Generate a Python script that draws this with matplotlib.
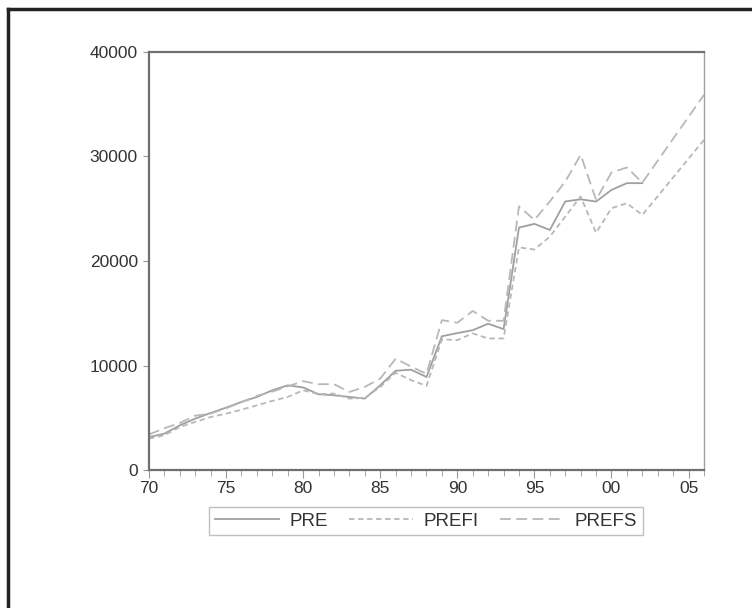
import matplotlib
matplotlib.use("Agg")
import matplotlib.pyplot as plt
from matplotlib.lines import Line2D

plt.rcParams['font.family'] = ['Liberation Sans', 'DejaVu Sans']

years = list(range(1970, 2007))

pre = [3150, 3480, 4275, 4915, 5460, 5970, 6510, 6990, 7630, 8100,
       7900, 7250, 7150, 6990, 6835, 8110, 9500, 9600, 8900, 12800,
       13100, 13380, 14000, 13480, 23200, 23550, 22970, 25700, 25900, 25690,
       26800, 27450, 27450, None, None, None, None]
prefi = [3000, 3320, 4120, 4600, 5070, 5390, 5770, 6190, 6610, 6990,
         7630, 7250, 7310, 6835, 6900, 7950, 9300, 8600, 8050, 12500,
         12430, 13070, 12590, 12590, 21300, 21100, 22330, 24250, 26170, 22700,
         25050, 25530, 24410, 26200, 28000, 29800, 31590]
prefs = [3400, 4000, 4500, 5200, 5400, 5900, 6500, 7100, 7500, 8000,
         8500, 8210, 8210, 7470, 7950, 8750, 10650, 9900, 9200, 14340,
         14090, 15220, 14280, 14280, 25230, 23930, 25700, 27600, 30160, 25850,
         28470, 28950, 27500, 29600, 31700, 33800, 35900]

xticks = [1970, 1975, 1980, 1985, 1990, 1995, 2000, 2005]
xticklabels = ['70', '75', '80', '85', '90', '95', '00', '05']
yticks = [0, 10000, 20000, 30000, 40000]

fig = plt.figure(figsize=(7.52, 6.08), dpi=100)
ax = fig.add_axes([149 / 752, 1 - 470 / 608, 555 / 752, 418 / 608])

# PRE stops at 2002, the two forecasts run on to 2006
pre_x = [y for y, v in zip(years, pre) if v is not None]
pre_y = [v for v in pre if v is not None]
ax.plot(pre_x, pre_y, color='#a0a0a0', lw=1.3, ls='-')
ax.plot(years, prefi, color='#b8b8b8', lw=1.3, ls=(0, (3, 2)))
ax.plot(years, prefs, color='#b8b8b8', lw=1.3, ls=(0, (6, 3)))

ax.set_xlim(1970, 2006)
ax.set_ylim(0, 40000)
ax.set_xticks(xticks)
ax.set_xticklabels(xticklabels)
ax.set_xticks(years, minor=True)
ax.set_yticks(yticks)
ax.set_yticklabels([str(v) for v in yticks])
ax.tick_params(axis='both', labelsize=12.5, colors='#333333', direction='out')
ax.tick_params(axis='x', which='major', length=6, color='#999999', pad=2)
ax.tick_params(axis='x', which='minor', length=4, color='#999999')
ax.tick_params(axis='y', length=4, color='#999999', pad=4)

for side in ['left', 'bottom', 'top']:
    ax.spines[side].set_color('#707070')
    ax.spines[side].set_linewidth(1.6)
ax.spines['right'].set_color('#a0a0a0')
ax.spines['right'].set_linewidth(1.0)

handles = [Line2D([], [], color='#a0a0a0', lw=1.3, ls='-'),
           Line2D([], [], color='#b8b8b8', lw=1.3, ls=(0, (3, 2))),
           Line2D([], [], color='#b8b8b8', lw=1.3, ls=(0, (6, 3)))]
leg = fig.legend(handles, ['PRE', 'PREFI', 'PREFS'], loc='center',
                 bbox_to_anchor=(426 / 752, 1 - 521 / 608), ncol=3,
                 fontsize=13.5, frameon=True, fancybox=False, handlelength=3.4,
                 columnspacing=1.1, handletextpad=0.6, borderpad=0.3,
                 borderaxespad=0)
leg.get_frame().set_edgecolor('#b0b0b0')
leg.get_frame().set_linewidth(1.0)
for t in leg.get_texts():
    t.set_color('#333333')

# outer frame of the figure (left and top edges visible)
fig.add_artist(Line2D([8 / 752, 8 / 752], [0, 1 - 9 / 608], color='#222222', lw=2.5))
fig.add_artist(Line2D([8 / 752, 1], [1 - 9 / 608, 1 - 9 / 608], color='#222222', lw=2.5))

fig.savefig('out.png', dpi=100)
